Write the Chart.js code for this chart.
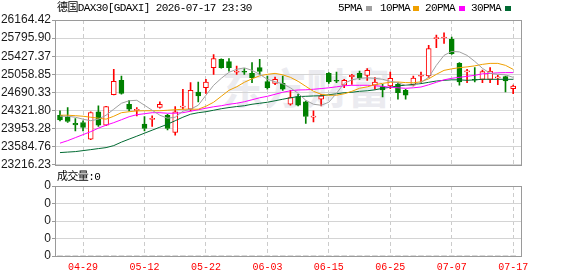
<!DOCTYPE html>
<html>
<head>
<meta charset="UTF-8">
<title>德国DAX30[GDAXI]</title>
<script src="https://cdn.jsdelivr.net/npm/chart.js"></script>
<style>
  html, body { margin: 0; padding: 0; background: #fff; }
  #wrap { position: relative; width: 578px; height: 276px; overflow: hidden; }
  #kline { position: absolute; left: 0; top: 0; }
  #vol { position: absolute; left: 0; top: 170px; }
  .txt {
    position: absolute;
    font-family: "Liberation Mono", "Noto Sans CJK SC", monospace;
    font-size: 11px;
    letter-spacing: -0.6px;
    line-height: 12px;
    color: #000;
    white-space: nowrap;
  }
  .sq { position: absolute; width: 6px; height: 5px; }
  .mark {
    position: absolute;
    left: 222px;
    top: 62px;
    font-family: "Noto Sans CJK SC", sans-serif;
    font-weight: bold;
    font-size: 42px;
    line-height: 48px;
    color: #ebebf0;
    white-space: nowrap;
  }
</style>
</head>
<body>
<div id="wrap">
  <div class="mark">东方财富</div>
  <canvas id="kline" width="578" height="173"></canvas>
  <canvas id="vol" width="578" height="106"></canvas>

  <div class="txt" style="left:57px; top:2px;">德国DAX30[GDAXI] 2026-07-17 23:30</div>
  <div class="txt" style="left:338px; top:2px;">5PMA</div>
  <div class="sq" style="left:366px; top:6px; background:#a0a0a0;"></div>
  <div class="txt" style="left:380px; top:2px;">10PMA</div>
  <div class="sq" style="left:413px; top:6px; background:#f0a000;"></div>
  <div class="txt" style="left:425px; top:2px;">20PMA</div>
  <div class="sq" style="left:459px; top:6px; background:#ff00ff;"></div>
  <div class="txt" style="left:471px; top:2px;">30PMA</div>
  <div class="sq" style="left:505px; top:6px; background:#006a32;"></div>
  <div class="txt" style="left:57px; top:171px;">成交量:0</div>
</div>

<script>
  const dates = [
    '2026-04-24','2026-04-27','2026-04-28','2026-04-29','2026-04-30','2026-05-04','2026-05-05','2026-05-06','2026-05-07','2026-05-08',
    '2026-05-11','2026-05-12','2026-05-13','2026-05-14','2026-05-15','2026-05-18','2026-05-19','2026-05-20','2026-05-21','2026-05-22',
    '2026-05-25','2026-05-26','2026-05-27','2026-05-28','2026-05-29','2026-06-01','2026-06-02','2026-06-03','2026-06-04','2026-06-05',
    '2026-06-08','2026-06-09','2026-06-10','2026-06-11','2026-06-12','2026-06-15','2026-06-16','2026-06-17','2026-06-18','2026-06-19',
    '2026-06-22','2026-06-23','2026-06-24','2026-06-25','2026-06-26','2026-06-29','2026-06-30','2026-07-01','2026-07-02','2026-07-03',
    '2026-07-06','2026-07-07','2026-07-08','2026-07-09','2026-07-10','2026-07-13','2026-07-14','2026-07-15','2026-07-16','2026-07-17'
  ];

  const open = [
    24226, 24191, 24063, 24078, 23739, 24293, 24023, 24646, 24936, 24449,
    24325, 24043, 24140, 24382, 24226, 23875, 24390, 24348, 24699, 24788,
    25194, 25363, 25316, 25100, 25108, 25078, 25194, 24910, 24875, 24875,
    24449, 24605, 24496, 24186, 24551, 25078, 24926, 24835, 25011, 25078,
    25038, 24835, 24808, 24821, 24855, 24733, 24841, 25019, 25024, 25784,
    25798, 25769, 25281, 25108, 24946, 24957, 24957, 24986, 25011, 24768
  ];
  const high = [
    24313, 24382, 24159, 24110, 24293, 24415, 24408, 25160, 25024, 24530,
    24382, 24200, 24212, 24496, 24246, 24402, 24754, 24890, 24902, 24957,
    25458, 25373, 25377, 25227, 25174, 25296, 25363, 25024, 25003, 25024,
    24733, 24652, 24516, 24313, 24652, 25092, 25105, 24957, 25058, 25125,
    25174, 24991, 24855, 25105, 24890, 24754, 25024, 25105, 25647, 25856,
    25905, 25815, 25296, 25160, 25194, 25145, 25194, 25038, 25024, 24841
  ];
  const low = [
    24110, 24078, 23907, 23907, 23729, 23997, 24013, 24638, 24652, 24313,
    24212, 23907, 23997, 24368, 23927, 23820, 24348, 24313, 24496, 24672,
    25058, 25184, 25125, 25058, 25058, 24890, 25058, 24754, 24849, 24733,
    24429, 24415, 24057, 24090, 24415, 24875, 24890, 24788, 24855, 24957,
    24936, 24754, 24597, 24768, 24551, 24551, 24821, 24890, 24991, 25600,
    25687, 25464, 24835, 24890, 24902, 24890, 24890, 24849, 24699, 24666
  ];
  const close = [
    24130, 24098, 24029, 23976, 24281, 24023, 24402, 24916, 24672, 24348,
    24335, 23956, 24150, 24449, 23956, 24293, 24398, 24733, 24618, 24902,
    25377, 25194, 25194, 25110, 25100, 24991, 25119, 24788, 24957, 24754,
    24585, 24429, 24200, 24196, 24618, 24902, 24918, 24936, 25038, 24991,
    25139, 24902, 24739, 24977, 24687, 24632, 24983, 25029, 25580, 25794,
    25808, 25478, 24902, 25118, 24938, 25113, 25125, 24996, 24922, 24821
  ];

  const ma5 = [
    24205, 24205, 24185, 24145, 24114, 24145, 24226, 24348, 24469, 24520,
    24530, 24429, 24327, 24226, 24165, 24185, 24307, 24348, 24429, 24632,
    24835, 24977, 25099, 25160, 25190, 25139, 25058, 24957, 24906, 24865,
    24784, 24672, 24530, 24449, 24429, 24490, 24672, 24875, 24946, 24977,
    24987, 24977, 24957, 24916, 24886, 24835, 24825, 24896, 24997, 25241,
    25444, 25525, 25515, 25444, 25322, 25180, 25078, 25058, 25048, 24997
  ];
  const ma10 = [
    24226, 24226, 24216, 24205, 24185, 24165, 24145, 24205, 24277, 24297,
    24313, 24317, 24317, 24317, 24327, 24337, 24348, 24348, 24348, 24408,
    24490, 24611, 24733, 24804, 24896, 24967, 25028, 25058, 25078, 25048,
    24997, 24916, 24814, 24713, 24652, 24632, 24632, 24662, 24713, 24774,
    24804, 24845, 24875, 24896, 24902, 24890, 24886, 24906, 24967, 25058,
    25139, 25170, 25194, 25210, 25231, 25261, 25281, 25281, 25241, 25160
  ];
  const ma20 = [
    23657, 23708, 23769, 23830, 23891, 23962, 24023, 24074, 24134, 24195,
    24236, 24256, 24277, 24277, 24266, 24266, 24277, 24307, 24337, 24368,
    24398, 24419, 24449, 24469, 24500, 24540, 24581, 24611, 24652, 24693,
    24723, 24739, 24743, 24754, 24768, 24784, 24804, 24825, 24835, 24835,
    24835, 24825, 24814, 24794, 24784, 24774, 24784, 24800, 24845, 24896,
    24946, 24977, 24997, 25017, 25038, 25068, 25078, 25089, 25093, 25093
  ];
  const ma30 = [
    23465, 23475, 23485, 23505, 23525, 23546, 23566, 23607, 23678, 23739,
    23799, 23860, 23921, 23982, 24043, 24114, 24185, 24246, 24277, 24297,
    24327, 24358, 24382, 24402, 24419, 24449, 24469, 24490, 24520, 24551,
    24581, 24605, 24611, 24618, 24622, 24642, 24662, 24683, 24693, 24713,
    24723, 24743, 24774, 24794, 24825, 24835, 24855, 24869, 24896, 24922,
    24936, 24946, 24946, 24936, 24946, 24957, 24957, 24957, 24957, 24957
  ];

  const volume = new Array(60).fill(0);

  const yTickLabels = ['23216.23', '23584.76', '23953.28', '24321.80', '24690.33', '25058.85', '25427.37', '25795.90', '26164.42'];
  const volTickLabels = ['0', '0', '0', '0', '0'];
  const xTickIndex = [3, 11, 19, 27, 35, 43, 51, 59];

  const RED = '#ff0000';
  const GREEN = '#008000';
  const isUp = i => close[i] >= open[i];

  const frame = {
    id: 'frame',
    afterDraw(chart) {
      const { ctx, chartArea: a } = chart;
      ctx.save();
      ctx.strokeStyle = '#9a9a9a';
      ctx.lineWidth = 1;
      ctx.strokeRect(Math.round(a.left) + 0.5, Math.round(a.top) + 0.5,
        Math.round(a.right - a.left) - 1, Math.round(a.bottom - a.top));
      ctx.restore();
    }
  };

  const xScale = (showLabels) => ({
    type: 'linear',
    min: -0.65,
    max: 60.15,
    offset: false,
    afterBuildTicks: s => { s.ticks = xTickIndex.map(v => ({ value: v })); },
    afterFit: s => { s.height = showLabels ? 20 : 0; },
    ticks: {
      display: showLabels,
      autoSkip: false,
      maxRotation: 0,
      padding: 5,
      color: '#ff0000',
      font: { family: 'Liberation Mono', size: 10 },
      callback: v => dates[v] ? dates[v].slice(5) : ''
    },
    grid: { color: '#cccccc', drawTicks: false, offset: false },
    border: { display: false, dash: [4, 3] }
  });

  const yFont = { family: 'Liberation Sans', size: 12 };

  const maLine = (label, arr, color) => ({
    type: 'line',
    label: label,
    data: arr.map((v, i) => ({ x: i, y: v })),
    borderColor: color,
    borderWidth: 1,
    pointRadius: 0,
    tension: 0,
    order: 1
  });

  new Chart(document.getElementById('kline'), {
    data: {
      datasets: [
        maLine('5PMA', ma5, '#a0a0a0'),
        maLine('10PMA', ma10, '#f0a000'),
        maLine('20PMA', ma20, '#ff00ff'),
        maLine('30PMA', ma30, '#006a32'),
        {
          type: 'bar',
          label: 'body',
          data: open.map((o, i) => ({ x: i, y: [o, close[i]] })),
          backgroundColor: c => isUp(c.dataIndex) ? '#ffffff' : GREEN,
          borderColor: c => isUp(c.dataIndex) ? RED : GREEN,
          borderWidth: 1,
          borderSkipped: false,
          barThickness: 5,
          minBarLength: 1,
          grouped: false,
          order: 2
        },
        {
          type: 'bar',
          label: 'upper',
          data: high.map((h, i) => ({ x: i, y: [Math.max(open[i], close[i]), h] })),
          backgroundColor: c => isUp(c.dataIndex) ? RED : GREEN,
          barThickness: 1,
          grouped: false,
          order: 3
        },
        {
          type: 'bar',
          label: 'lower',
          data: low.map((l, i) => ({ x: i, y: [l, Math.min(open[i], close[i])] })),
          backgroundColor: c => isUp(c.dataIndex) ? RED : GREEN,
          barThickness: 1,
          grouped: false,
          order: 3
        }
      ]
    },
    options: {
      responsive: false,
      animation: false,
      devicePixelRatio: 1,
      layout: { padding: { top: 20, right: 56, bottom: 8, left: 0 } },
      plugins: { legend: { display: false }, tooltip: { enabled: false } },
      scales: {
        x: xScale(false),
        y: {
          min: 23216.23,
          max: 26164.42,
          afterBuildTicks: s => { s.ticks = yTickLabels.map(t => ({ value: parseFloat(t) })); },
          afterFit: s => { s.width = 55; },
          ticks: {
            autoSkip: false,
            padding: 1,
            color: '#1a1a1a',
            font: yFont,
            callback: (v, i) => yTickLabels[i]
          },
          grid: { color: '#d4d4d4', tickLength: 3, tickColor: '#9a9a9a' },
          border: { display: false }
        }
      }
    },
    plugins: [frame]
  });

  new Chart(document.getElementById('vol'), {
    data: {
      datasets: [{
        type: 'bar',
        label: '成交量',
        data: volume.map((v, i) => ({ x: i, y: v })),
        backgroundColor: '#888888',
        barThickness: 5
      }]
    },
    options: {
      responsive: false,
      animation: false,
      devicePixelRatio: 1,
      layout: { padding: { top: 16, right: 56, bottom: 0, left: 0 } },
      plugins: { legend: { display: false }, tooltip: { enabled: false } },
      scales: {
        x: xScale(true),
        y: {
          min: 0,
          max: 4,
          afterFit: s => { s.width = 55; },
          ticks: {
            stepSize: 1,
            autoSkip: false,
            padding: 1,
            color: '#1a1a1a',
            font: yFont,
            callback: (v, i) => volTickLabels[i]
          },
          grid: { color: '#d4d4d4', tickLength: 3, tickColor: '#9a9a9a' },
          border: { display: false }
        }
      }
    },
    plugins: [frame]
  });
</script>
</body>
</html>
